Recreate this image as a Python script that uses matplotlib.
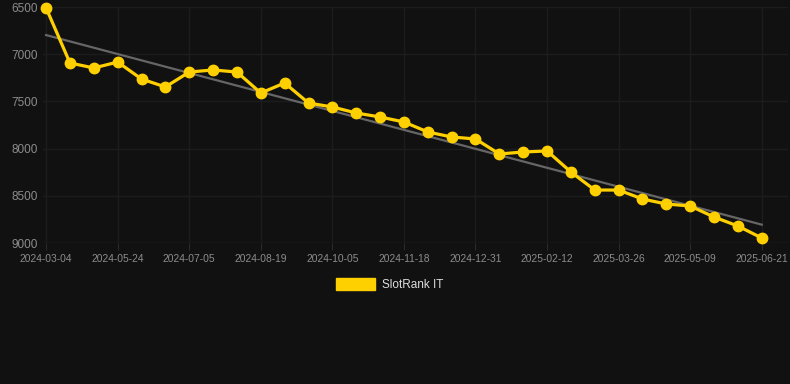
import numpy as np
import matplotlib.pyplot as plt

plt.rcParams['font.family'] = ['Liberation Sans', 'DejaVu Sans']

# Fechas (una categoría por punto)
fechas = ["2024-03-04", "2024-03-31", "2024-04-27", "2024-05-24", "2024-06-07",
          "2024-06-21", "2024-07-05", "2024-07-20", "2024-08-04", "2024-08-19",
          "2024-09-03", "2024-09-20", "2024-10-05", "2024-10-19", "2024-11-02",
          "2024-11-18", "2024-12-02", "2024-12-16", "2024-12-31", "2025-01-14",
          "2025-01-28", "2025-02-12", "2025-02-26", "2025-03-12", "2025-03-26",
          "2025-04-09", "2025-04-24", "2025-05-09", "2025-05-23", "2025-06-06",
          "2025-06-21"]

# Posición en el ranking
ranking = [6510, 7093, 7146, 7083, 7263, 7347, 7189, 7167, 7189, 7411,
           7305, 7517, 7559, 7623, 7665, 7718, 7824, 7877, 7898, 8057,
           8036, 8025, 8248, 8439, 8439, 8534, 8587, 8608, 8725, 8820,
           8947]

y_ticks = [6500, 7000, 7500, 8000, 8500, 9000]
serie = "SlotRank IT"

fondo = "#111111"
amarillo = "#FFD000"

fig = plt.figure(figsize=(7.9, 3.84), dpi=100, facecolor=fondo)
ax = fig.add_axes([43 / 790, 1 - 243 / 384, 745 / 790, 236 / 384])
ax.set_facecolor(fondo)

x = np.arange(len(fechas))

# Línea de tendencia
m, b = np.polyfit(x, ranking, 1)
ax.plot(x, m * x + b, color="#666666", linewidth=1.6, zorder=2)

# Serie principal
ax.plot(x, ranking, color=amarillo, linewidth=2.3, marker="o",
        markersize=7.5, zorder=3, clip_on=False)

ax.set_ylim(9000, 6500)
ax.set_xlim(-0.13, 31.1)
ax.set_yticks(y_ticks)
ax.set_yticklabels([str(v) for v in y_ticks])
ticks_x = x[::3]
ax.set_xticks(ticks_x)
ax.set_xticklabels([fechas[i] for i in ticks_x])

ax.grid(True, color="#1c1c1c", linewidth=1)
ax.axhline(9000, color="#2a2a2a", linewidth=1, zorder=1)
for s in ax.spines.values():
    s.set_visible(False)

ax.tick_params(axis="y", length=0, labelsize=8.5, labelcolor="#8c8c8c", pad=4)
ax.tick_params(axis="x", length=5, color="#2a2a2a", labelsize=7.4,
               labelcolor="#8c8c8c", pad=3)

# Leyenda
leg_ax = fig.add_axes([0, 0, 1, 1], facecolor="none")
leg_ax.set_axis_off()
leg_ax.set_xlim(0, 790)
leg_ax.set_ylim(384, 0)
leg_ax.add_patch(plt.Rectangle((336, 278), 39, 12, color=amarillo))
leg_ax.text(382, 284.5, serie, color="#dddddd", fontsize=8.5,
            va="center", ha="left")

fig.savefig("out.png", dpi=100, facecolor=fondo)
